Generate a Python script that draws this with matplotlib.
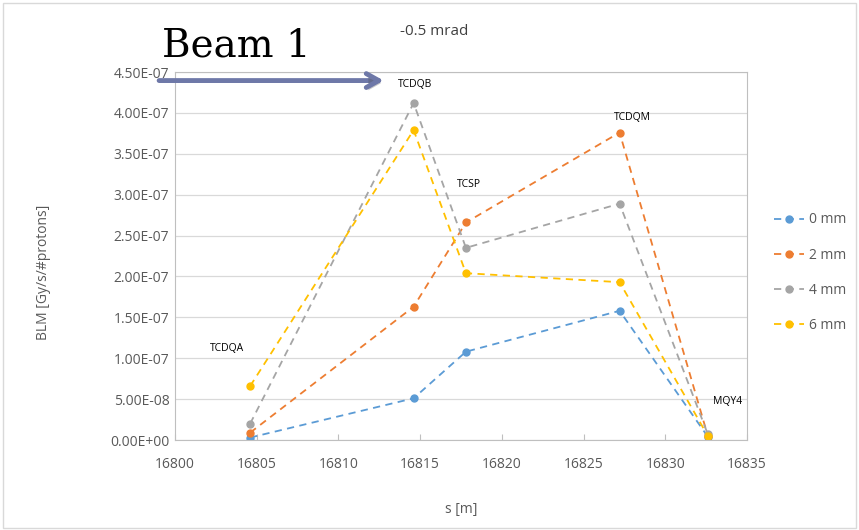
import matplotlib.pyplot as plt
from matplotlib.patches import Rectangle, FancyArrowPatch
import matplotlib.patheffects as pe

# data
s_pos = [16804.6, 16814.6, 16817.8, 16827.2, 16832.6]
blm_0mm = [0.3e-8, 5.1e-8, 1.08e-7, 1.58e-7, 0.4e-8]
blm_2mm = [0.9e-8, 1.63e-7, 2.66e-7, 3.76e-7, 0.5e-8]
blm_4mm = [2.0e-8, 4.12e-7, 2.35e-7, 2.89e-7, 0.7e-8]
blm_6mm = [6.6e-8, 3.79e-7, 2.04e-7, 1.93e-7, 0.5e-8]
series_labels = ["0 mm", "2 mm", "4 mm", "6 mm"]
colors = ["#5B9BD5", "#ED7D31", "#A5A5A5", "#FFC000"]

elements = ["TCDQA", "TCDQB", "TCSP", "TCDQM", "MQY4"]
element_xy = [(16803.2, 1.12e-7), (16814.7, 4.35e-7), (16818.0, 3.12e-7),
              (16828.0, 3.95e-7), (16833.8, 4.75e-8)]

plt.rcParams['font.family'] = ['Open Sans', 'DejaVu Sans']
txt = "#404040"

fig = plt.figure(figsize=(8.59, 5.30), dpi=100)
fig.patches.append(Rectangle((0.004, 0.004), 0.992, 0.99, transform=fig.transFigure,
                             fill=False, edgecolor="#d9d9d9", lw=1))
ax = fig.add_axes([0.2037, 0.1698, 0.666, 0.6943])

for vals, lab, c in zip([blm_0mm, blm_2mm, blm_4mm, blm_6mm], series_labels, colors):
    ax.plot(s_pos, vals, ls=(0, (4, 3)), color=c, lw=1.3, marker="o", ms=5, label=lab)

for name, (x, y) in zip(elements, element_xy):
    ax.text(x, y, name, fontsize=7.5, ha="center", va="center", color="black")

ax.set_xlim(16800, 16835)
ax.set_ylim(0, 4.5e-7)
ax.set_xticks(range(16800, 16836, 5))
ax.set_yticks([i * 0.5e-7 for i in range(10)])
ax.set_yticklabels(["%.2E" % (i * 0.5e-7) for i in range(10)])
ax.grid(axis="y", color="#d9d9d9", lw=0.9)
ax.set_axisbelow(True)
for sp in ax.spines.values():
    sp.set_color("#bfbfbf")
ax.tick_params(axis="y", length=0, labelsize=10, labelcolor="#595959", pad=4)
ax.tick_params(axis="x", direction="in", length=4, color="#bfbfbf",
               labelsize=10, labelcolor="#595959", pad=12)

ax.set_xlabel("s [m]", fontsize=10, color="#595959", labelpad=22)
ax.set_ylabel("BLM [Gy/s/#protons]", fontsize=10, color="#595959")
ax.yaxis.set_label_coords(-0.216, 0.455)

fig.text(0.505, 0.94, "-0.5 mrad", fontsize=11, color=txt, ha="center", va="center")
fig.text(0.275, 0.913, "Beam 1", fontsize=28, family="DejaVu Serif", color="black",
         ha="center", va="center")

arrow = FancyArrowPatch((0.182, 0.848), (0.45, 0.848), transform=fig.transFigure,
                        arrowstyle="->,head_length=9,head_width=5", color="#6E78A8", lw=3.5,
                        path_effects=[pe.SimplePatchShadow(offset=(1.5, -2), alpha=0.3),
                                      pe.Normal()])
fig.patches.append(arrow)

ax.legend(loc="center left", bbox_to_anchor=(1.025, 0.455), frameon=False, fontsize=10,
          labelcolor="#595959", handlelength=2.2, labelspacing=1.45, handletextpad=0.3)

fig.savefig("out.png", dpi=100)
